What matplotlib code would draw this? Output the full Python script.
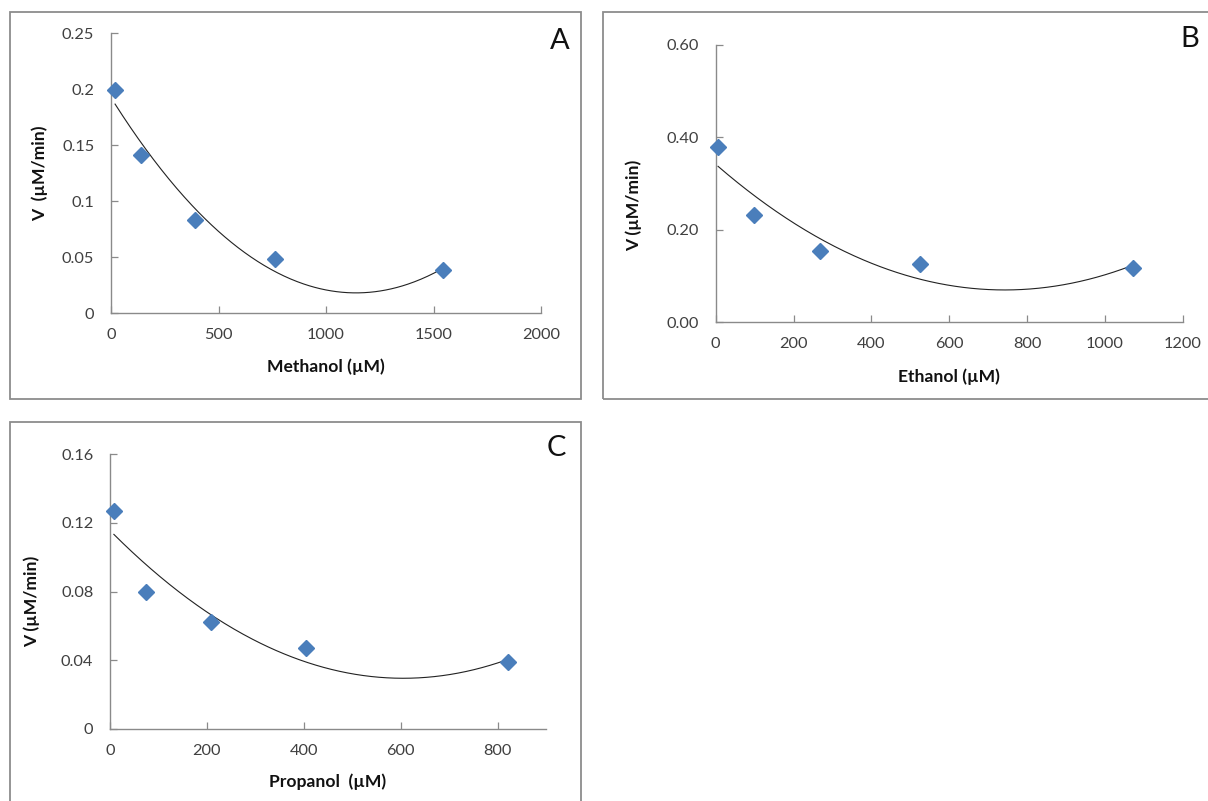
import numpy as np
import matplotlib
matplotlib.use("Agg")
import matplotlib.pyplot as plt
from matplotlib.patches import Rectangle

# ---- data ----
methanol_x = [19, 140, 390, 762, 1544]
methanol_v = [0.199, 0.141, 0.083, 0.048, 0.038]
ethanol_x = [6, 98, 268, 524, 1071]
ethanol_v = [0.379, 0.232, 0.154, 0.126, 0.117]
propanol_x = [8, 74, 208, 405, 822]
propanol_v = [0.127, 0.080, 0.062, 0.047, 0.039]

a_xticks = [0, 500, 1000, 1500, 2000]
a_yticks = [0, 0.05, 0.1, 0.15, 0.2, 0.25]
a_yticklabels = ["0", "0.05", "0.1", "0.15", "0.2", "0.25"]
b_xticks = [0, 200, 400, 600, 800, 1000, 1200]
b_yticks = [0.0, 0.2, 0.4, 0.6]
b_yticklabels = ["0.00", "0.20", "0.40", "0.60"]
c_xticks = [0, 200, 400, 600, 800]
c_yticks = [0, 0.04, 0.08, 0.12, 0.16]
c_yticklabels = ["0", "0.04", "0.08", "0.12", "0.16"]

W, H = 1208, 801
fig = plt.figure(figsize=(W / 100, H / 100), dpi=100)
fig.patch.set_facecolor("white")

FONT = "Lato"
TICKC = "#404040"
SPINEC = "#8a8a8a"
MCOL = "#4a7ebb"


def ax_px(l, r, t, b):
    return [l / W, 1 - b / H, (r - l) / W, (b - t) / H]


def frame(l, t, r, b):
    fig.patches.append(Rectangle((l / W, 1 - b / H), (r - l) / W, (b - t) / H,
                                 transform=fig.transFigure, fill=False,
                                 edgecolor="#8c8c8c", linewidth=1.3))


def panel(rect, xs, ys, xlim, ylim, xticks, yticks, yticklabels,
          xlabel, ylabel, xlc, ylc):
    ax = fig.add_axes(rect)
    ax.set_facecolor("none")
    coef = np.polyfit(xs, ys, 2)
    xx = np.linspace(min(xs), max(xs), 300)
    ax.plot(xx, np.polyval(coef, xx), color="#222222", lw=0.8, zorder=2)
    ax.plot(xs, ys, linestyle="none", marker="D", markersize=8.5,
            color=MCOL, markeredgecolor=MCOL, zorder=3, clip_on=False)
    ax.set_xlim(*xlim)
    ax.set_ylim(*ylim)
    ax.set_xticks(xticks)
    ax.set_xticklabels([str(v) for v in xticks])
    ax.set_yticks(yticks)
    ax.set_yticklabels(yticklabels)
    for s in ["top", "right"]:
        ax.spines[s].set_visible(False)
    for s in ["left", "bottom"]:
        ax.spines[s].set_color(SPINEC)
        ax.spines[s].set_linewidth(1.0)
    ax.tick_params(direction="in", length=5, width=0.9, color=SPINEC,
                   labelsize=11.8, labelcolor=TICKC)
    ax.tick_params(axis="x", pad=11)
    ax.tick_params(axis="y", pad=12)
    for lab in ax.get_xticklabels() + ax.get_yticklabels():
        lab.set_fontfamily(FONT)
    ax.set_xlabel(xlabel, fontfamily=FONT, fontweight="bold", fontsize=12.6,
                  va="center", ha="center", color="#111111")
    ax.xaxis.set_label_coords(*xlc)
    ax.set_ylabel(ylabel, fontfamily=FONT, fontweight="bold", fontsize=12.6,
                  va="center", ha="center", color="#111111")
    ax.yaxis.set_label_coords(*ylc)
    return ax


frame(10, 12, 581, 399)
frame(603, 12, 1215, 399)
frame(10, 422, 581, 815)

panel(ax_px(111, 541, 33, 313), methanol_x, methanol_v, (0, 2000), (0, 0.25),
      a_xticks, a_yticks, a_yticklabels, "Methanol (µM)", "V  (µM/min)",
      (0.5, -0.193), (-0.165, 0.5))
panel(ax_px(715.7, 1183, 45, 322), ethanol_x, ethanol_v, (0, 1200), (0, 0.6),
      b_xticks, b_yticks, b_yticklabels, "Ethanol (µM)", "V (µM/min)",
      (0.5, -0.199), (-0.175, 0.42))
panel(ax_px(110, 546, 454, 729), propanol_x, propanol_v, (0, 900), (0, 0.16),
      c_xticks, c_yticks, c_yticklabels, "Propanol  (µM)", "V (µM/min)",
      (0.498, -0.193), (-0.179, 0.465))

for letter, (px, py) in zip(["A", "B", "C"], [(560, 41), (1190, 39), (556, 448)]):
    fig.text(px / W, 1 - py / H, letter, fontfamily=FONT, fontsize=21,
             ha="center", va="center", color="#111111")

fig.savefig("out.png", dpi=100, facecolor="white")
